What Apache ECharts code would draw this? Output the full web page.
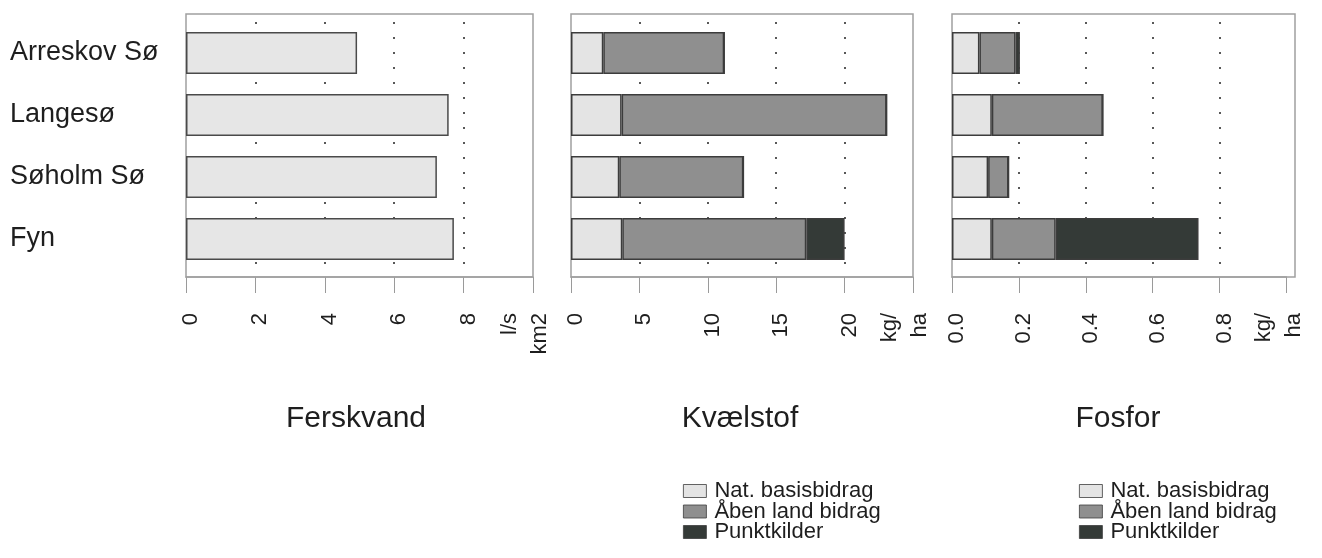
<!DOCTYPE html>
<html>
<head>
<meta charset="utf-8">
<script src="https://cdn.jsdelivr.net/npm/echarts@6/dist/echarts.min.js"></script>
<style>
html,body{margin:0;padding:0;background:#fff;}
#c{width:1322px;height:558px;}
</style>
</head>
<body>
<div id="c"></div>
<script>
// ---- data ----
const categories = ['Arreskov Sø', 'Langesø', 'Søholm Sø', 'Fyn'];
const ferskvand = [4.93, 7.57, 7.23, 7.72];           // l/s km2
const nNat   = [2.36, 3.70, 3.53, 3.75];              // kg/ha
const nAaben = [8.84, 19.37, 9.07, 13.45];
const nPunkt = [0, 0, 0, 2.80];
const pNat   = [0.082, 0.119, 0.108, 0.119];          // kg/ha
const pAaben = [0.108, 0.332, 0.061, 0.191];
const pPunkt = [0.013, 0, 0, 0.427];
const panelTitles = ['Ferskvand', 'Kvælstof', 'Fosfor'];
const seriesNames = ['Nat. basisbidrag', 'Åben land bidrag', 'Punktkilder'];
const unitLabels = [['l/s', 'km2'], ['kg/', 'ha'], ['kg/', 'ha']];
const axisMax = [10, 25, 1.0];
const axisInterval = [2, 5, 0.2];
const labelDecimals = [0, 0, 1];

// ---- layout / style ----
const FONT = '"Liberation Sans", Arial, Helvetica, sans-serif';
const TXT = '#1e1e1e';
const panels = [
  {left: 186, width: 347},
  {left: 571, width: 342},
  {left: 952, width: 343}
];
const titleX = [356, 740, 1118];
const GRID_TOP = 22, GRID_H = 248;
const FRAME_TOP = 14, FRAME_BOTTOM = 277;
const colors = ['#e4e4e4', '#8f8f8f', '#343a37'];
const borderC = '#3c3c3c';

const grids = panels.map(p => ({left: p.left, width: p.width, top: GRID_TOP, height: GRID_H}));

const xAxes = panels.map((p, i) => {
  const nTicks = Math.round(axisMax[i] / axisInterval[i]) + 1;
  const splitColors = [];
  for (let k = 0; k < nTicks; k++) splitColors.push((k === 0 || k === nTicks - 1) ? 'rgba(0,0,0,0)' : '#222');
  return {
    type: 'value', gridIndex: i, min: 0, max: axisMax[i], interval: axisInterval[i],
    position: 'bottom', offset: FRAME_BOTTOM - (GRID_TOP + GRID_H),
    axisLine: {show: true, lineStyle: {color: '#a0a0a0', width: 1.5}},
    axisTick: {show: true, length: 16, lineStyle: {color: '#9a9a9a', width: 1}},
    splitLine: {show: true, lineStyle: {type: [2, 13], color: splitColors, width: 1.5}},
    axisLabel: {
      rotate: 90, margin: 36, fontSize: 22, fontFamily: FONT, color: TXT,
      padding: [10, 0, 0, 0],
      formatter: function (v) {
        if (Math.abs(v - axisMax[i]) < 1e-9) {
          return '{u|' + unitLabels[i][0] + '}\n{u|' + unitLabels[i][1] + '}\n{e| }';
        }
        return v.toFixed(labelDecimals[i]);
      },
      rich: {
        u: {fontSize: 22, lineHeight: 30, fontFamily: FONT, color: TXT},
        e: {fontSize: 1, lineHeight: 26}
      }
    }
  };
});

const yAxes = panels.map((p, i) => ({
  type: 'category', gridIndex: i, data: categories, inverse: true,
  axisLine: {show: false}, axisTick: {show: false}, splitLine: {show: false},
  axisLabel: i === 0 ? {show: true, align: 'left', margin: p.left - 10, fontSize: 27, fontFamily: FONT, color: TXT, padding: [4, 0, 0, 0]}
                     : {show: false}
}));

function barSeries(name, data, idx, stack, color) {
  return {
    name: name, type: 'bar', xAxisIndex: idx, yAxisIndex: idx, stack: stack,
    barWidth: 42, data: data,
    itemStyle: {color: color, borderColor: borderC, borderWidth: 1.5},
    emphasis: {disabled: true}
  };
}

const series = [
  {
    name: panelTitles[0], type: 'bar', xAxisIndex: 0, yAxisIndex: 0, barWidth: 42, data: ferskvand,
    itemStyle: {color: '#e6e6e6', borderColor: '#4a4a4a', borderWidth: 1.5}
  },
  barSeries(seriesNames[0], nNat, 1, 'n', colors[0]),
  barSeries(seriesNames[1], nAaben, 1, 'n', colors[1]),
  barSeries(seriesNames[2], nPunkt, 1, 'n', colors[2]),
  barSeries(seriesNames[0], pNat, 2, 'p', colors[0]),
  barSeries(seriesNames[1], pAaben, 2, 'p', colors[1]),
  barSeries(seriesNames[2], pPunkt, 2, 'p', colors[2])
];

const legendBase = {
  orient: 'vertical', top: 480, itemWidth: 23, itemHeight: 13, itemGap: -1.5,
  padding: 0, selectedMode: false, icon: 'rect',
  data: seriesNames.map(n => ({name: n, icon: 'rect'})),
  itemStyle: {borderWidth: 0.8},
  textStyle: {fontSize: 22, fontFamily: FONT, color: TXT, lineHeight: 21, padding: [0, 0, 0, 3]}
};

const option = {
  animation: false,
  backgroundColor: '#fff',
  textStyle: {fontFamily: FONT},
  title: panelTitles.map((t, i) => ({
    text: t, left: titleX[i], top: 404, textAlign: 'center', padding: 0,
    textStyle: {fontSize: 30, fontWeight: 'normal', fontFamily: FONT, color: TXT}
  })),
  legend: [
    Object.assign({}, legendBase, {left: 683}),
    Object.assign({}, legendBase, {left: 1079})
  ],
  grid: grids,
  xAxis: xAxes,
  yAxis: yAxes,
  series: series,
  graphic: panels.map(p => ({
    type: 'rect', z: 1, silent: true,
    shape: {x: p.left, y: FRAME_TOP, width: p.width, height: FRAME_BOTTOM - FRAME_TOP},
    style: {fill: 'none', stroke: '#a0a0a0', lineWidth: 1.5}
  }))
};

const chart = echarts.init(document.getElementById('c'), null, {renderer: 'canvas'});
chart.setOption(option);
</script>
</body>
</html>
